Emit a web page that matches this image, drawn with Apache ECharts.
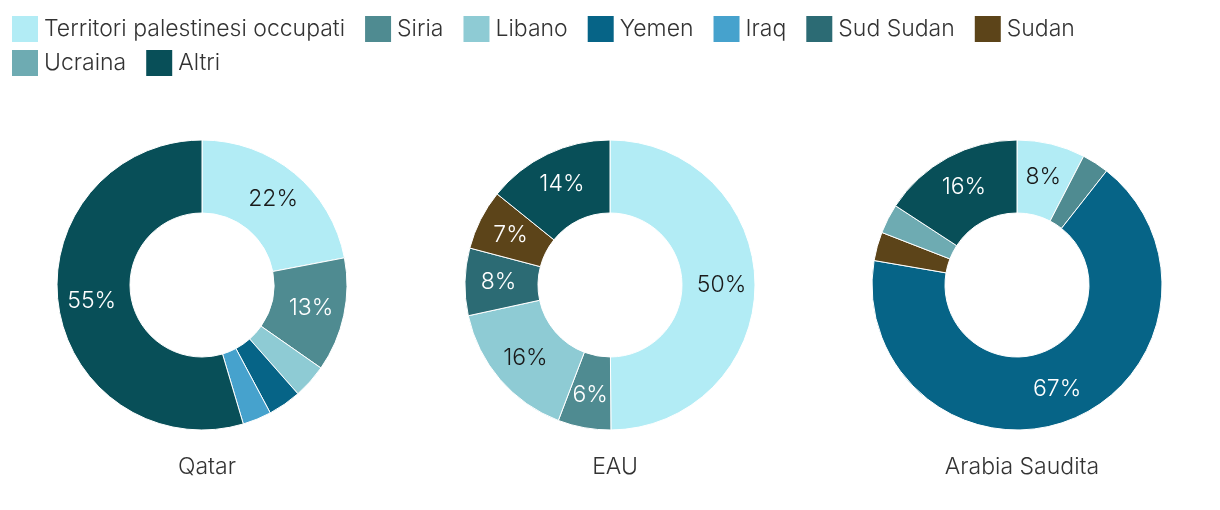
<!DOCTYPE html>
<html>
<head>
<meta charset="utf-8">
<script src="https://cdn.jsdelivr.net/npm/echarts@6/dist/echarts.min.js"></script>
<style>
    html, body { margin: 0; padding: 0; background: #fff; }
    #chart { width: 1220px; height: 510px; }
</style>
</head>
<body>
<div id="chart"></div>
<script>
// categorie e colori
const categories = ['Territori palestinesi occupati', 'Siria', 'Libano', 'Yemen', 'Iraq', 'Sud Sudan', 'Sudan', 'Ucraina', 'Altri']
const colors = ['#b2ecf5', '#4f8b91', '#8ecbd4', '#066487', '#46a2cd', '#2c6b74', '#5c4419', '#6eabb2', '#084f58']
// etichette scure sulle fette chiare
const darkLabel = ['Territori palestinesi occupati', 'Libano']

const countries = ['Qatar', 'EAU', 'Arabia Saudita']

// percentuali
const qatarNames = ['Territori palestinesi occupati', 'Siria', 'Libano', 'Yemen', 'Iraq', 'Altri']
const qatarValues = [22, 12.7, 3.8, 3.7, 3.2, 54.6]

const eauNames = ['Territori palestinesi occupati', 'Siria', 'Libano', 'Sud Sudan', 'Sudan', 'Altri']
const eauValues = [49.9, 5.9, 15.8, 7.5, 6.7, 14.2]

const saudiNames = ['Territori palestinesi occupati', 'Siria', 'Yemen', 'Sudan', 'Ucraina', 'Altri']
const saudiValues = [7.6, 3, 67.1, 3.2, 3.3, 15.8]

const centersX = [202, 610, 1017]
const font = 'Inter'

function buildData(names, values) {
    return names.map((n, i) => {
        const c = colors[categories.indexOf(n)]
        return {
            name: n,
            value: values[i],
            itemStyle: { color: c },
            label: { color: darkLabel.includes(n) ? '#1a1a1a' : '#ffffff' }
        }
    })
}

const allData = [
    buildData(qatarNames, qatarValues),
    buildData(eauNames, eauValues),
    buildData(saudiNames, saudiValues)
]

const series = allData.map((d, i) => ({
    type: 'pie',
    name: countries[i],
    center: [centersX[i], 285],
    radius: [72, 145],
    startAngle: 90,
    clockwise: true,
    avoidLabelOverlap: false,
    itemStyle: { borderColor: '#fff', borderWidth: 1 },
    emphasis: { disabled: true },
    label: {
        show: true,
        position: 'inside',
        fontFamily: font,
        fontWeight: 300,
        fontSize: 23,
        formatter: p => p.value >= 5 ? Math.round(p.value) + '%' : ''
    },
    labelLine: { show: false },
    data: d
}))

const legendBase = {
    orient: 'horizontal',
    padding: 0,
    itemWidth: 28,
    itemHeight: 28,
    itemGap: 18,
    icon: 'rect',
    selectedMode: false,
    textStyle: { fontFamily: font, fontWeight: 300, fontSize: 23, color: '#333' }
}

const option = {
    animation: false,
    legend: [
        Object.assign({}, legendBase, { left: 10, top: 14, data: categories.slice(0, 7) }),
        Object.assign({}, legendBase, { left: 10, top: 48, data: categories.slice(7) })
    ],
    title: countries.map((c, i) => ({
        text: c,
        left: centersX[i],
        top: 451,
        textAlign: 'center',
        textStyle: { fontFamily: font, fontWeight: 300, fontSize: 23, color: '#333' }
    })),
    series
}

const chart = echarts.init(document.getElementById('chart'))
chart.setOption(option)
</script>
</body>
</html>
